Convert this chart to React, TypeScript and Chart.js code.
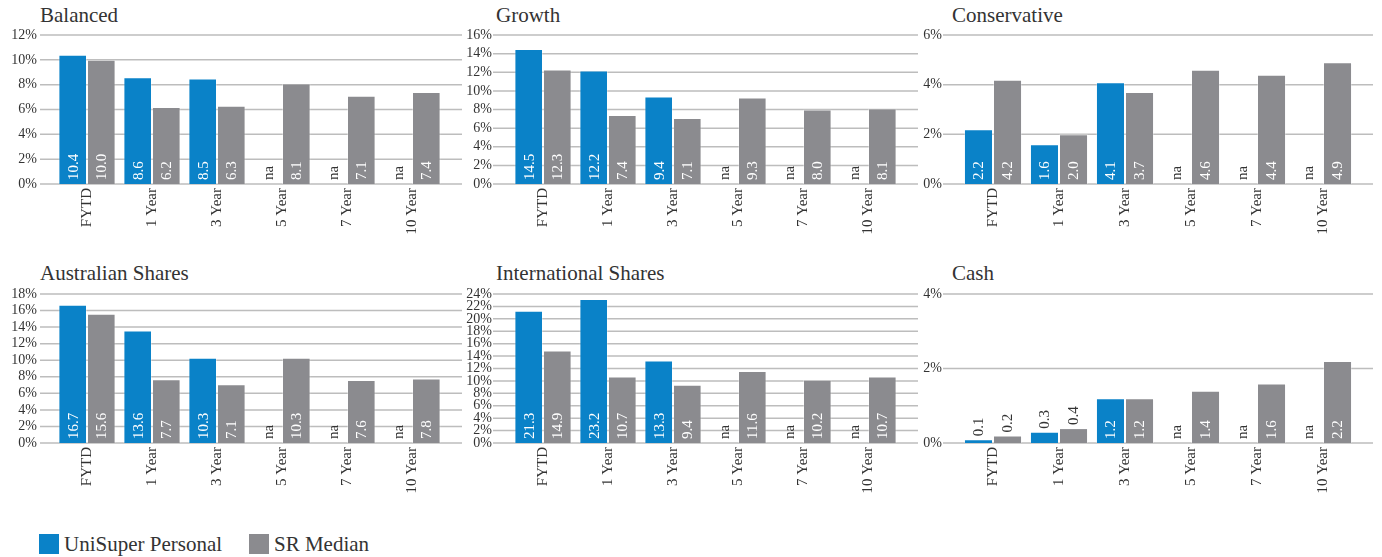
import React, { useEffect, useRef } from 'react';
import { Chart, registerables } from 'chart.js';

Chart.register(...registerables);

// ---------- data ----------
const CATEGORIES = ['FYTD', '1 Year', '3 Year', '5 Year', '7 Year', '10 Year'];
const SERIES_NAMES = ['UniSuper Personal', 'SR Median'];
const PANEL_TITLES = ['Balanced', 'Growth', 'Conservative', 'Australian Shares', 'International Shares', 'Cash'];
const NA_LABEL = 'na';

const BALANCED_UNISUPER = [10.4, 8.6, 8.5, null, null, null];
const BALANCED_MEDIAN = [10.0, 6.2, 6.3, 8.1, 7.1, 7.4];
const GROWTH_UNISUPER = [14.5, 12.2, 9.4, null, null, null];
const GROWTH_MEDIAN = [12.3, 7.4, 7.1, 9.3, 8.0, 8.1];
const CONSERVATIVE_UNISUPER = [2.2, 1.6, 4.1, null, null, null];
const CONSERVATIVE_MEDIAN = [4.2, 2.0, 3.7, 4.6, 4.4, 4.9];
const AUSSHARES_UNISUPER = [16.7, 13.6, 10.3, null, null, null];
const AUSSHARES_MEDIAN = [15.6, 7.7, 7.1, 10.3, 7.6, 7.8];
const INTSHARES_UNISUPER = [21.3, 23.2, 13.3, null, null, null];
const INTSHARES_MEDIAN = [14.9, 10.7, 9.4, 11.6, 10.2, 10.7];
const CASH_UNISUPER = [0.1, 0.3, 1.2, null, null, null];
const CASH_MEDIAN = [0.2, 0.4, 1.2, 1.4, 1.6, 2.2];

const UNISUPER_SERIES = [BALANCED_UNISUPER, GROWTH_UNISUPER, CONSERVATIVE_UNISUPER, AUSSHARES_UNISUPER, INTSHARES_UNISUPER, CASH_UNISUPER];
const MEDIAN_SERIES = [BALANCED_MEDIAN, GROWTH_MEDIAN, CONSERVATIVE_MEDIAN, AUSSHARES_MEDIAN, INTSHARES_MEDIAN, CASH_MEDIAN];
const Y_MAX = [12, 16, 6, 18, 24, 4];
const Y_STEP = 2;

// ---------- style / layout ----------
const FONT = "'Liberation Serif', serif";
const TEXT = '#333333';
const BLUE = '#0A82C8';
const GREY = '#8B8B8F';
const GRID = '#BDBDBD';
const COLORS = [BLUE, GREY];

const COLS = [
  { cx: 0, cw: 470, yWidth: 54.5, rightPad: 25.5, tickPad: 17.5, extL: 14.5, extR: 17.5, titleX: 40 },
  { cx: 460, cw: 470, yWidth: 50.5, rightPad: 29.5, tickPad: 18.5, extL: 17.5, extR: 17.5, titleX: 496 },
  { cx: 915, cw: 467, yWidth: 45, rightPad: 26, tickPad: 18, extL: 17, extR: 17, titleX: 952 },
];
const ROWS = [
  { cy: 25, titleTop: 5 },
  { cy: 284, titleTop: 263 },
];
const CANVAS_H = 219;
const TOP_PAD = 10;
const X_AXIS_H = 60;

function Panel({ idx }: { idx: number }) {
  const ref = useRef<HTMLCanvasElement | null>(null);
  const col = COLS[idx % 3];
  const row = ROWS[Math.floor(idx / 3)];

  useEffect(() => {
    if (!ref.current) return;
    const gridPlugin = {
      id: 'extGrid',
      beforeDatasetsDraw(chart: any) {
        const ctx = chart.ctx;
        const ys = chart.scales.y;
        const { left, right } = chart.chartArea;
        ctx.save();
        ctx.strokeStyle = GRID;
        ctx.lineWidth = 1.5;
        ys.ticks.forEach((t: any) => {
          const py = ys.getPixelForValue(t.value);
          ctx.beginPath();
          ctx.moveTo(left - col.extL, py);
          ctx.lineTo(right + col.extR, py);
          ctx.stroke();
        });
        ctx.restore();
      },
    };
    const labelPlugin = {
      id: 'barLabels',
      afterDatasetsDraw(chart: any) {
        const ctx = chart.ctx;
        ctx.save();
        ctx.font = `15px ${FONT}`;
        ctx.textAlign = 'left';
        ctx.textBaseline = 'middle';
        const greyMeta = chart.getDatasetMeta(1);
        chart.data.datasets.forEach((ds: any, d: number) => {
          const meta = chart.getDatasetMeta(d);
          meta.data.forEach((el: any, i: number) => {
            const v = ds.data[i];
            let x: number;
            let y: number;
            let txt: string;
            let color: string;
            const g = greyMeta.data[i];
            const base = g.base;
            if (v === null || v === undefined) {
              x = g.x - g.width;
              y = base - 4;
              txt = NA_LABEL;
              color = TEXT;
            } else {
              txt = v.toFixed(1);
              x = el.x;
              const h = el.base - el.y;
              const tw = ctx.measureText(txt).width;
              if (h >= tw + 8) {
                y = el.base - 4;
                color = '#FFFFFF';
              } else {
                y = el.y - 3;
                color = TEXT;
              }
            }
            ctx.save();
            ctx.translate(x, y);
            ctx.rotate(-Math.PI / 2);
            ctx.fillStyle = color;
            ctx.fillText(txt, 0, 1);
            ctx.restore();
          });
        });
        ctx.restore();
      },
    };

    const chart = new Chart(ref.current, {
      type: 'bar',
      data: {
        labels: CATEGORIES,
        datasets: [UNISUPER_SERIES[idx], MEDIAN_SERIES[idx]].map((data, d) => ({
          label: SERIES_NAMES[d],
          data: data as any,
          backgroundColor: COLORS[d],
          borderColor: 'rgba(255,255,255,0.3)',
          borderWidth: 1,
          categoryPercentage: 0.88,
          barPercentage: 1,
        })),
      },
      options: {
        animation: false,
        responsive: true,
        maintainAspectRatio: false,
        layout: { padding: { top: TOP_PAD, right: col.rightPad, bottom: 0, left: 0 } },
        plugins: {
          legend: { display: false },
          tooltip: { enabled: false },
          title: { display: false },
        },
        scales: {
          x: {
            grid: { display: false, drawTicks: false },
            border: { display: false },
            ticks: {
              minRotation: 90,
              maxRotation: 90,
              autoSkip: false,
              padding: 4,
              color: TEXT,
              font: { family: FONT, size: 15 },
            },
            afterFit: (s: any) => {
              s.height = X_AXIS_H;
              s.paddingLeft = 0;
              s.paddingRight = 0;
            },
          },
          y: {
            min: 0,
            max: Y_MAX[idx],
            grid: { display: false, drawTicks: false },
            border: { display: false },
            ticks: {
              stepSize: Y_STEP,
              autoSkip: false,
              padding: col.tickPad,
              color: TEXT,
              font: { family: FONT, size: 14 },
              callback: (v: any) => `${v}%`,
            },
            afterFit: (s: any) => {
              s.width = col.yWidth;
              s.paddingTop = 0;
              s.paddingBottom = 0;
            },
          },
        },
      },
      plugins: [gridPlugin, labelPlugin],
    } as any);
    return () => chart.destroy();
  }, [idx]);

  return (
    <>
      <div
        style={{
          position: 'absolute',
          left: col.titleX,
          top: row.titleTop,
          fontSize: 21,
          lineHeight: '21px',
          color: TEXT,
          whiteSpace: 'nowrap',
        }}
      >
        {PANEL_TITLES[idx]}
      </div>
      <div style={{ position: 'absolute', left: col.cx, top: row.cy, width: col.cw, height: CANVAS_H }}>
        <canvas ref={ref} />
      </div>
    </>
  );
}

export default function App() {
  return (
    <div
      style={{
        position: 'absolute',
        left: 0,
        top: 0,
        width: 1382,
        height: 557,
        background: '#FFFFFF',
        fontFamily: FONT,
        overflow: 'hidden',
      }}
    >
      {PANEL_TITLES.map((_, i) => (
        <Panel key={i} idx={i} />
      ))}
      {SERIES_NAMES.map((name, i) => (
        <div
          key={name}
          style={{
            position: 'absolute',
            left: [39, 249][i],
            top: 534,
            height: 20,
            display: 'flex',
            alignItems: 'center',
            whiteSpace: 'nowrap',
          }}
        >
          <div style={{ width: 20, height: 20, background: COLORS[i], marginRight: 5 }} />
          <span style={{ fontSize: 21, lineHeight: '21px', color: TEXT }}>{name}</span>
        </div>
      ))}
    </div>
  );
}
